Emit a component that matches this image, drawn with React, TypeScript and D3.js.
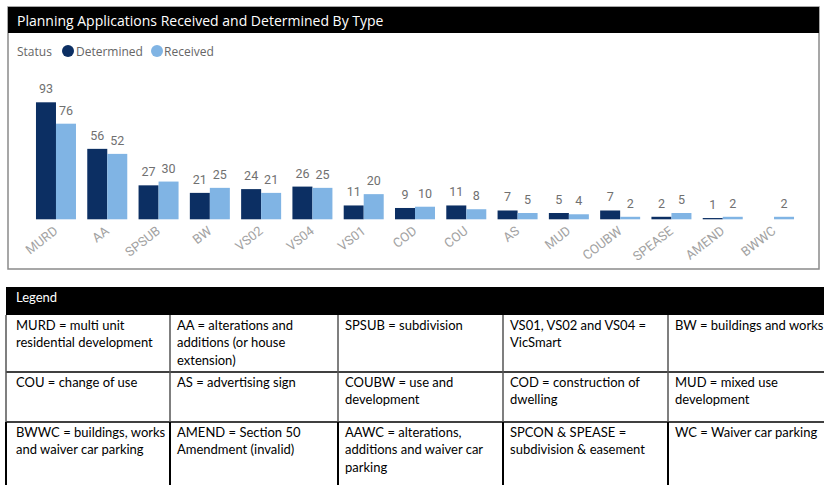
import React from "react";
import * as d3 from "d3";

const categories = ["MURD", "AA", "SPSUB", "BW", "VS02", "VS04", "VS01", "COD", "COU", "AS", "MUD", "COUBW", "SPEASE", "AMEND", "BWWC"];
const determined: (number | null)[] = [93, 56, 27, 21, 24, 26, 11, 9, 11, 7, 5, 7, 2, 1, null];
const received: (number | null)[] = [76, 52, 30, 25, 21, 25, 20, 10, 8, 5, 4, 2, 5, 2, 2];
const seriesNames = ["Determined", "Received"];
const seriesColors = ["#0c2f63", "#80b4e4"];
const chartTitle = "Planning Applications Received and Determined By Type";
const legendTitle = "Status";
const tableTitle = "Legend";

const tableRow1 = [
  ["MURD = multi unit", "residential development"],
  ["AA = alterations and", "additions (or house", "extension)"],
  ["SPSUB = subdivision"],
  ["VS01, VS02 and VS04 =", "VicSmart"],
  ["BW = buildings and works"],
];
const tableRow2 = [
  ["COU = change of use"],
  ["AS = advertising sign"],
  ["COUBW = use and", "development"],
  ["COD = construction of", "dwelling"],
  ["MUD = mixed use", "development"],
];
const tableRow3 = [
  ["BWWC = buildings, works", "and waiver car parking"],
  ["AMEND = Section 50", "Amendment (invalid)"],
  ["AAWC = alterations,", "additions and waiver car", "parking"],
  ["SPCON & SPEASE =", "subdivision & easement"],
  ["WC = Waiver car parking"],
];

const W = 824;
const H = 485;

export default function App() {
  const x0 = d3.scaleBand<string>().domain(categories).range([17, 813]).paddingInner(0.22).paddingOuter(0.37);
  const x1 = d3.scaleBand<string>().domain(seriesNames).range([0, x0.bandwidth()]).padding(0);
  const y = d3.scaleLinear().domain([0, 100]).range([219.3, 219.3 - 125.8]);
  const series = [determined, received];

  const colX = [6, 170, 338, 503, 668, 830];
  const rowY = [315, 372, 422, 490];
  const rows = [tableRow1, tableRow2, tableRow3];
  const lineH = 17.5;
  const tableFont = "Lato, 'Noto Sans', sans-serif";

  return (
    <div style={{ position: "absolute", left: 0, top: 0, width: W, height: H, background: "#fff" }}>
      <svg width={W} height={H} style={{ display: "block" }}>
        {/* chart panel */}
        <rect x={8} y={7} width={811} height={262} fill="#fff" stroke="#8a8a8a" strokeWidth={1.5} />
        <rect x={8} y={7} width={811} height={26} fill="#000" />
        <text x={17} y={26} fill="#fff" fontFamily="'Open Sans', sans-serif" fontSize={14}>{chartTitle}</text>

        {/* legend */}
        <text x={17} y={55.5} fill="#666" fontFamily="'Open Sans', sans-serif" fontSize={12}>{legendTitle}</text>
        <circle cx={68} cy={51} r={6} fill={seriesColors[0]} />
        <text x={76} y={55.5} fill="#666" fontFamily="'Open Sans', sans-serif" fontSize={12}>{seriesNames[0]}</text>
        <circle cx={157} cy={51} r={6} fill={seriesColors[1]} />
        <text x={164} y={55.5} fill="#666" fontFamily="'Open Sans', sans-serif" fontSize={12}>{seriesNames[1]}</text>

        {/* bars */}
        {categories.map((c, i) => (
          <g key={c} transform={`translate(${x0(c)},0)`}>
            {series.map((s, j) => {
              const v = s[i];
              if (v === null) return null;
              const bx = x1(seriesNames[j])!;
              return (
                <g key={j}>
                  <rect x={bx} y={y(v)} width={x1.bandwidth()} height={y(0) - y(v)} fill={seriesColors[j]} />
                  <text x={bx + x1.bandwidth() / 2} y={y(v) - 9} textAnchor="middle" fill="#707070" fontFamily="Roboto, sans-serif" fontSize={12.5}>{v}</text>
                </g>
              );
            })}
          </g>
        ))}

        {/* x axis labels */}
        {categories.map((c) => (
          <text
            key={c}
            transform={`translate(${x0(c)! + x0.bandwidth() / 2 - 3},${y(0) + 6}) rotate(-38)`}
            textAnchor="end"
            dy="0.71em"
            fill="#a3a3a3"
            fontFamily="Roboto, sans-serif"
            fontSize={13}
          >
            {c}
          </text>
        ))}

        {/* table */}
        <rect x={colX[0]} y={287} width={W - colX[0] + 10} height={28} fill="#000" />
        <text x={16} y={302} fill="#fff" fontFamily={tableFont} fontSize={13}>{tableTitle}</text>
        {rows.map((row, r) =>
          row.map((cell, ci) =>
            cell.map((line, li) => (
              <text key={`${r}-${ci}-${li}`} x={colX[ci] + (ci === 0 ? 10 : 7)} y={rowY[r] + 14.5 + li * lineH} fill="#000" fontFamily={tableFont} fontSize={13}>
                {line}
              </text>
            ))
          )
        )}
        {/* horizontal lines */}
        {[372, 422].map((yy) => (
          <line key={yy} x1={colX[0]} x2={W} y1={yy} y2={yy} stroke="#000" strokeWidth={1.5} />
        ))}
        {/* vertical lines */}
        {colX.slice(0, 5).map((cx, k) => (
          <g key={k}>
            <line x1={cx} x2={cx} y1={315} y2={422} stroke="#555" strokeWidth={1.5} />
            <line x1={cx} x2={cx} y1={422} y2={H} stroke="#000" strokeWidth={2} />
          </g>
        ))}
      </svg>
    </div>
  );
}
